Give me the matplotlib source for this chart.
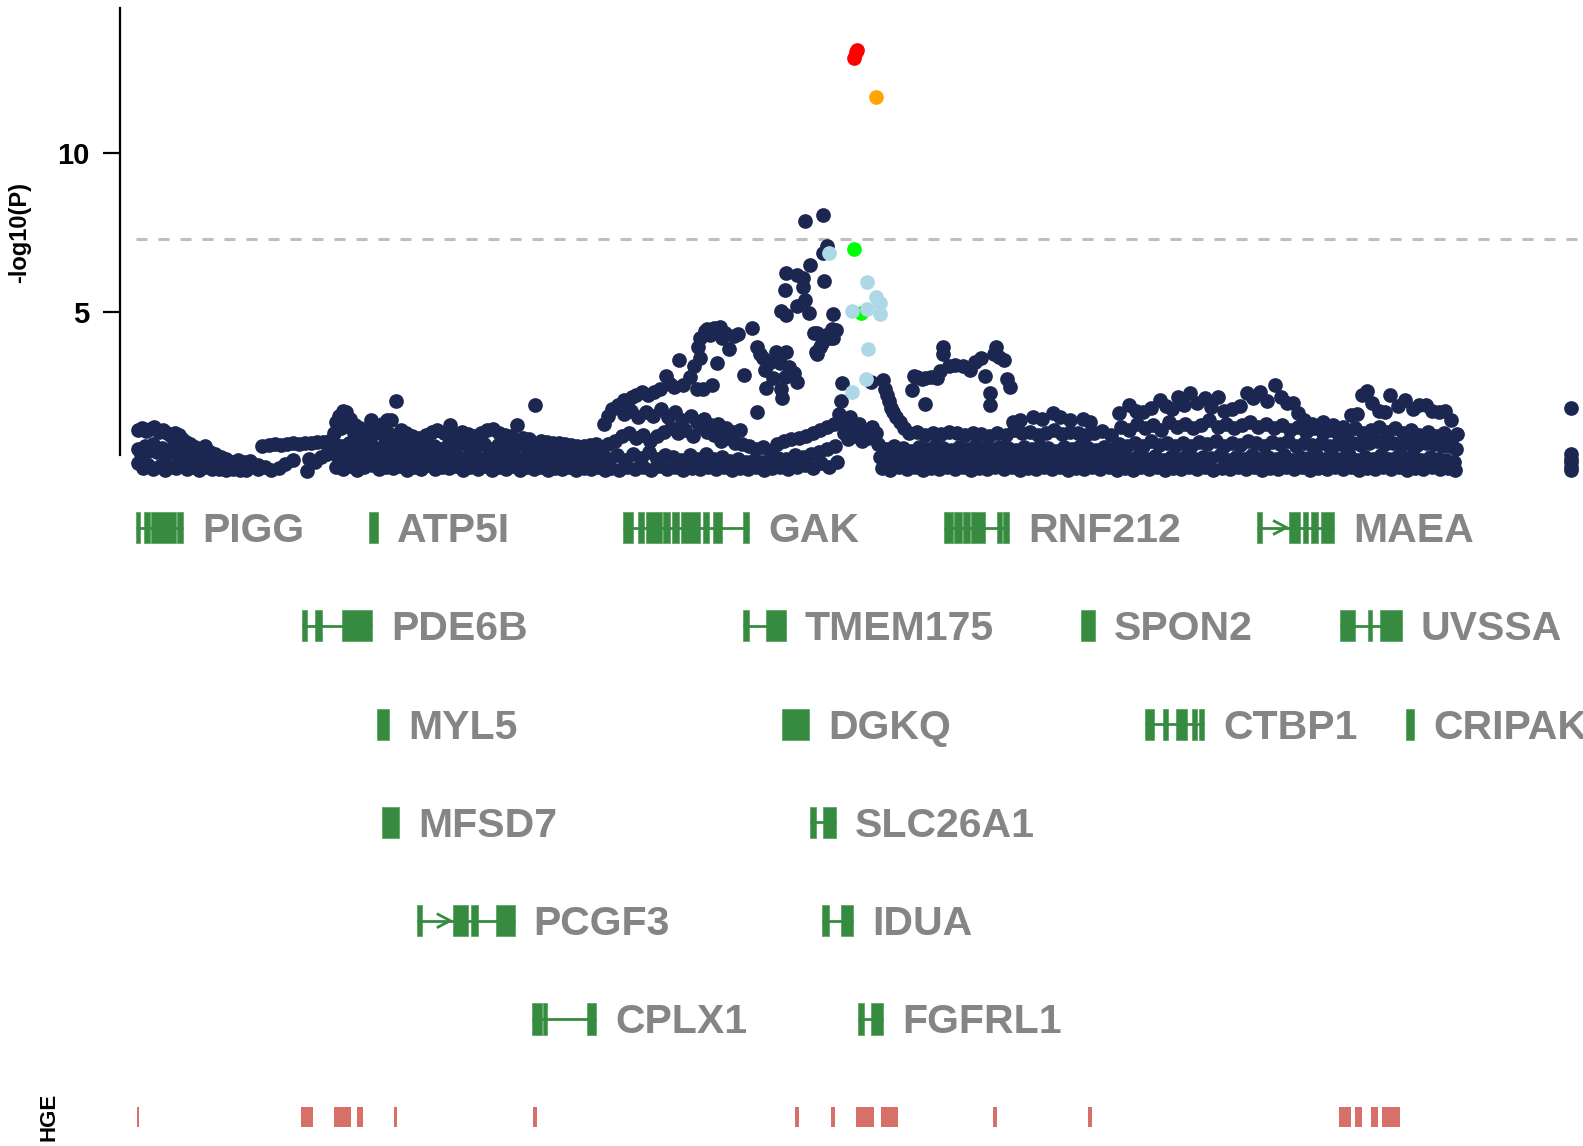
import numpy as np
import matplotlib
matplotlib.use("Agg")
import matplotlib.pyplot as plt
from matplotlib.patches import Rectangle

plt.rcParams['font.family'] = ['Liberation Sans', 'DejaVu Sans']

# ---------------------------------------------------------------
# Association results: position (kb along the region), -log10(P)
# ---------------------------------------------------------------
# r2 < 0.2 with the lead SNP, split by stretch of the region
low_ld_left = [
    (137, 1.30), (141, 1.35), (145, 1.28), (149, 1.33), (153, 1.38), (157, 1.25), (161, 1.30),
    (165, 1.20), (169, 1.12), (173, 1.22), (177, 1.15), (180, 1.00), (184, 0.92), (188, 0.85),
    (193, 0.75), (198, 0.70), (203, 0.78), (208, 0.62), (213, 0.55), (219, 0.45), (224, 0.40),
    (230, 0.30), (236, 0.35), (242, 0.28), (248, 0.32),
    (137, 0.70), (140, 0.55), (144, 0.80), (148, 0.65), (152, 0.85), (156, 0.60), (160, 0.72),
    (164, 0.50), (168, 0.62), (172, 0.78), (176, 0.48), (180, 0.60), (185, 0.45), (190, 0.55),
    (195, 0.40), (200, 0.30), (205, 0.42), (210, 0.25), (216, 0.30), (222, 0.18), (228, 0.22),
    (234, 0.12), (240, 0.20), (246, 0.10),
    (137, 0.25), (142, 0.10), (147, 0.20), (152, 0.08), (158, 0.18), (163, 0.05), (168, 0.15),
    (174, 0.10), (179, 0.20), (185, 0.06), (191, 0.15), (197, 0.05), (203, 0.12), (210, 0.06),
    (217, 0.08), (224, 0.04), (231, 0.06), (238, 0.04), (244, 0.05),
    (256, 0.20), (260, 0.80), (266, 0.82), (272, 0.85), (278, 0.84), (284, 0.86), (290, 0.88),
    (296, 0.87), (302, 0.88), (308, 0.90), (314, 0.91), (320, 0.92), (326, 0.95),
    (256, 0.08), (262, 0.15), (268, 0.05), (276, 0.10), (282, 0.22), (290, 0.35), (304, 0.02),
    (306, 0.40), (312, 0.30), (318, 0.45), (324, 0.55), (330, 0.70),
]

low_ld_mid = [
    (333, 1.55), (336, 1.75), (340, 1.90), (343, 1.85), (347, 1.65), (352, 1.45), (357, 1.35),
    (362, 1.30), (367, 1.62), (372, 1.40), (378, 1.50), (383, 1.60), (387, 1.62), (392, 2.20),
    (397, 1.30), (402, 1.20), (408, 1.10), (415, 1.05), (422, 1.15), (428, 1.25), (433, 1.30),
    (440, 1.20), (446, 1.45), (452, 1.15), (458, 1.25), (464, 1.18), (470, 1.10), (476, 1.22),
    (482, 1.30), (488, 1.32), (494, 1.20), (500, 1.15), (506, 1.10), (512, 1.45), (518, 1.05),
    (524, 1.00), (530, 2.10), (536, 0.95), (542, 0.92), (548, 0.88), (554, 0.90), (560, 0.85),
    (566, 0.84), (572, 0.80), (578, 0.78), (584, 0.82), (590, 0.85), (596, 0.75),
    (331, 1.20), (338, 1.35), (345, 1.42), (351, 1.20), (358, 1.10), (364, 1.18), (370, 1.25),
    (376, 1.22), (382, 1.28), (388, 1.15), (395, 1.05), (401, 0.95),
    (332, 0.85), (339, 0.80), (346, 0.90), (353, 0.78), (360, 0.72), (367, 0.85), (374, 0.70),
    (381, 0.88), (388, 0.75), (395, 0.80), (402, 0.68), (409, 0.78), (416, 0.72), (423, 0.85),
    (430, 0.80), (437, 0.70), (444, 0.82), (451, 0.75), (458, 0.88), (465, 0.72), (472, 0.80),
    (479, 0.85), (486, 0.70), (493, 0.82), (500, 0.78), (507, 0.72), (514, 0.85), (521, 0.75),
    (528, 0.68), (535, 0.80), (542, 0.70), (549, 0.62), (556, 0.70), (563, 0.60), (570, 0.66),
    (577, 0.55), (584, 0.58), (591, 0.50), (598, 0.45),
    (335, 0.45), (342, 0.40), (349, 0.52), (356, 0.35), (363, 0.48), (370, 0.40), (377, 0.50),
    (384, 0.38), (391, 0.45), (398, 0.35), (405, 0.48), (412, 0.42), (419, 0.52), (426, 0.38),
    (433, 0.45), (440, 0.50), (447, 0.36), (454, 0.46), (461, 0.40), (468, 0.52), (475, 0.38),
    (482, 0.46), (489, 0.42), (496, 0.50), (503, 0.36), (510, 0.45), (517, 0.40), (524, 0.48),
    (531, 0.35), (538, 0.42), (545, 0.30), (552, 0.38), (559, 0.28), (566, 0.35), (573, 0.25),
    (580, 0.32), (587, 0.22), (594, 0.30),
    (333, 0.15), (340, 0.08), (347, 0.18), (354, 0.05), (361, 0.12), (368, 0.20), (375, 0.06),
    (382, 0.15), (389, 0.10), (396, 0.18), (403, 0.05), (410, 0.14), (417, 0.08), (424, 0.20),
    (431, 0.06), (438, 0.15), (445, 0.10), (452, 0.18), (459, 0.05), (466, 0.12), (473, 0.08),
    (480, 0.16), (487, 0.04), (494, 0.12), (501, 0.08), (508, 0.18), (515, 0.05), (522, 0.12),
    (529, 0.08), (536, 0.15), (543, 0.05), (550, 0.10), (557, 0.06), (564, 0.12), (571, 0.04),
    (578, 0.10), (585, 0.06), (592, 0.12), (599, 0.05),
]

low_ld_peak = [
    (605, 0.10), (613, 0.05), (621, 0.15), (629, 0.08), (637, 0.12), (645, 0.05), (653, 0.16),
    (661, 0.08), (669, 0.12), (677, 0.04), (685, 0.10), (693, 0.06), (701, 0.15), (709, 0.08),
    (717, 0.12), (725, 0.05), (733, 0.10), (741, 0.06), (749, 0.12), (757, 0.05), (765, 0.10),
    (773, 0.15), (781, 0.08), (789, 0.12), (797, 0.20), (805, 0.10), (813, 0.25), (821, 0.15),
    (829, 0.30),
    (603, 0.40), (611, 0.50), (619, 0.35), (627, 0.55), (635, 0.42), (643, 0.60), (651, 0.38),
    (659, 0.52), (667, 0.45), (675, 0.35), (683, 0.50), (691, 0.40), (699, 0.55), (707, 0.38),
    (715, 0.45), (723, 0.32), (731, 0.40), (739, 0.30), (747, 0.36), (755, 0.28), (763, 0.35),
    (771, 0.42), (779, 0.38), (787, 0.50), (795, 0.45), (803, 0.55), (811, 0.60), (819, 0.70),
    (827, 0.80),
    (602, 0.85), (609, 0.95), (616, 1.10), (623, 1.20), (630, 1.05), (637, 1.15), (644, 0.95),
    (651, 1.10), (658, 1.25), (665, 1.35), (672, 1.20), (679, 1.30), (686, 1.10), (693, 1.40),
    (700, 1.25), (707, 1.15), (714, 0.95), (721, 1.05), (728, 0.90), (735, 0.85), (742, 0.80),
    (749, 0.70), (756, 0.75), (763, 0.65), (770, 0.85), (777, 0.95), (784, 1.00), (791, 1.05),
    (798, 1.10), (805, 1.20), (812, 1.30), (819, 1.40), (826, 1.50),
    (618, 1.80), (625, 1.90), (632, 1.70), (640, 1.85), (647, 1.75), (655, 1.95), (662, 1.70),
    (669, 1.85), (676, 1.60), (684, 1.75), (690, 1.55), (697, 1.65), (704, 1.45), (711, 1.50),
    (719, 1.35), (726, 1.25), (733, 1.30),
    (598, 1.50), (602, 1.75), (606, 1.95), (612, 2.10), (618, 2.25), (622, 2.00), (626, 2.35),
    (630, 2.40), (636, 2.48), (642, 2.40), (648, 2.50), (654, 2.60), (660, 3.00), (664, 2.75),
    (668, 2.65), (673, 3.50), (677, 2.72), (683, 2.97), (687, 3.30), (691, 3.90), (693, 4.20),
    (696, 2.59), (698, 4.40), (700, 4.46), (703, 4.30), (707, 4.50), (710, 3.40), (713, 4.55),
    (715, 4.20), (718, 4.35), (722, 3.86), (727, 4.25), (731, 4.31), (737, 3.03), (745, 4.50),
    (705, 2.70), (690, 2.60), (693, 3.55),
    (750, 3.90), (753, 3.70), (756, 3.55), (758, 3.19), (759, 2.62), (762, 3.40), (766, 2.93),
    (769, 3.75), (773, 3.40), (775, 2.30), (779, 3.75), (782, 3.28), (786, 3.10), (789, 2.80),
    (750, 1.86), (774, 2.60), (778, 2.95),
    (774, 5.04), (778, 5.70), (779, 4.91), (779, 6.23), (789, 6.18), (789, 5.19), (795, 6.08),
    (795, 5.80), (797, 5.39), (797, 7.86), (801, 4.97), (802, 6.50), (806, 4.34), (809, 4.34),
    (809, 3.70), (814, 4.05), (815, 8.05), (815, 6.87), (816, 5.98), (819, 7.10), (824, 4.46),
    (825, 4.94), (825, 4.20), (834, 2.78), (808, 3.75), (812, 3.90), (818, 4.30), (822, 4.20),
    (828, 4.45),
]

low_ld_right = [
    (831, 1.80), (833, 2.20), (835, 1.60), (836, 1.20), (838, 1.40), (840, 1.00), (842, 1.70),
    (845, 1.30), (848, 1.10), (851, 1.50), (854, 0.95), (857, 1.25), (860, 1.05), (864, 1.40),
    (868, 1.20), (863, 2.80),
    (875, 2.88), (877, 2.60), (879, 2.40), (881, 2.20), (883, 2.00), (885, 1.85), (888, 1.70),
    (891, 1.55), (895, 1.35),
    (903, 2.55), (905, 3.00), (908, 2.95), (913, 2.90), (916, 2.92), (922, 2.95), (928, 2.93),
    (931, 3.15), (934, 3.70), (934, 3.90), (940, 3.30), (946, 3.35), (954, 3.30), (961, 3.20),
    (966, 3.45), (972, 3.55), (976, 3.00), (981, 2.46), (981, 2.08), (985, 3.70), (987, 3.90),
    (990, 3.60), (994, 3.50), (997, 2.90), (1000, 2.65), (916, 2.12),
    (900, 1.20), (908, 1.25), (916, 1.15), (924, 1.22), (932, 1.18), (940, 1.25), (948, 1.20),
    (956, 1.15), (964, 1.22), (972, 1.18), (980, 1.12), (988, 1.20), (996, 1.15), (1004, 1.30),
    (1012, 1.20), (1020, 1.25), (1028, 1.15), (1036, 1.22), (1044, 1.30), (1052, 1.18),
    (1060, 1.25), (1068, 1.20), (1076, 1.15), (1084, 1.22), (1092, 1.28), (1100, 1.15),
    (870, 0.85), (878, 0.70), (886, 0.80), (894, 0.72), (902, 0.65), (910, 0.75), (918, 0.70),
    (926, 0.78), (934, 0.72), (942, 0.68), (950, 0.75), (958, 0.70), (966, 0.78), (974, 0.72),
    (982, 0.70), (990, 0.76), (998, 0.72), (1006, 0.68), (1014, 0.75), (1022, 0.70),
    (1030, 0.78), (1038, 0.72), (1046, 0.65), (1054, 0.75), (1062, 0.70), (1070, 0.78),
    (1078, 0.72), (1086, 0.68), (1094, 0.75), (1102, 0.70),
    (872, 0.45), (880, 0.38), (888, 0.50), (896, 0.35), (904, 0.45), (912, 0.40), (920, 0.52),
    (928, 0.36), (936, 0.46), (944, 0.40), (952, 0.50), (960, 0.38), (968, 0.45), (976, 0.42),
    (984, 0.50), (992, 0.35), (1000, 0.45), (1008, 0.40), (1016, 0.52), (1024, 0.38),
    (1032, 0.46), (1040, 0.40), (1048, 0.50), (1056, 0.36), (1064, 0.45), (1072, 0.42),
    (1080, 0.48), (1088, 0.38), (1096, 0.46), (1104, 0.40),
    (874, 0.10), (882, 0.05), (890, 0.15), (898, 0.08), (906, 0.12), (914, 0.04), (922, 0.10),
    (930, 0.06), (938, 0.15), (946, 0.08), (954, 0.12), (962, 0.05), (970, 0.10), (978, 0.06),
    (986, 0.14), (994, 0.08), (1002, 0.12), (1010, 0.05), (1018, 0.10), (1026, 0.06),
    (1034, 0.12), (1042, 0.08), (1050, 0.15), (1058, 0.05), (1066, 0.10), (1074, 0.06),
    (1082, 0.12), (1090, 0.08), (1098, 0.14), (1106, 0.05),
    (1003, 1.55), (1010, 1.60), (1023, 1.70), (1032, 1.65), (1043, 1.83), (1050, 1.70),
    (1060, 1.60), (1073, 1.65), (1080, 1.55),
]

low_ld_far = [
    (1108, 1.83), (1118, 2.08), (1125, 1.90), (1132, 1.85), (1140, 2.00), (1149, 2.24),
    (1155, 2.05), (1161, 1.95), (1167, 2.33), (1173, 2.10), (1179, 2.46), (1186, 2.15),
    (1194, 2.30), (1200, 2.02), (1206, 2.33), (1212, 1.90), (1220, 1.95), (1228, 2.05),
    (1235, 2.46), (1241, 2.30), (1248, 2.48), (1255, 2.20), (1263, 2.72), (1269, 2.35),
    (1275, 2.15), (1281, 2.15), (1286, 1.83), (1292, 1.60), (1300, 1.50), (1310, 1.55),
    (1320, 1.45), (1330, 1.40), (1338, 1.77), (1344, 1.80), (1349, 2.40), (1354, 2.52),
    (1359, 2.15), (1366, 1.90), (1372, 1.85), (1377, 2.40), (1385, 2.05), (1392, 2.25),
    (1400, 1.95), (1406, 2.10), (1412, 2.10), (1418, 1.90), (1425, 1.85), (1431, 1.90),
    (1437, 1.60), (1443, 1.18),
    (1110, 1.40), (1118, 1.30), (1126, 1.50), (1134, 1.35), (1142, 1.45), (1150, 1.30),
    (1158, 1.55), (1166, 1.40), (1174, 1.50), (1182, 1.35), (1190, 1.45), (1198, 1.60),
    (1206, 1.40), (1214, 1.50), (1222, 1.35), (1230, 1.45), (1238, 1.55), (1246, 1.40),
    (1254, 1.50), (1262, 1.35), (1270, 1.45), (1278, 1.30), (1286, 1.40), (1294, 1.25),
    (1302, 1.35), (1310, 1.20), (1318, 1.30), (1326, 1.15), (1334, 1.25), (1342, 1.35),
    (1350, 1.20), (1358, 1.30), (1366, 1.40), (1374, 1.25), (1382, 1.35), (1390, 1.20),
    (1398, 1.30), (1406, 1.15), (1414, 1.25), (1422, 1.10), (1430, 1.20), (1438, 1.05),
    (1108, 0.85), (1116, 0.78), (1124, 0.90), (1132, 0.80), (1140, 0.95), (1148, 0.82),
    (1156, 0.90), (1164, 0.78), (1172, 0.88), (1180, 0.80), (1188, 0.92), (1196, 0.85),
    (1204, 0.95), (1212, 0.80), (1220, 0.90), (1228, 0.82), (1236, 0.95), (1244, 0.88),
    (1252, 0.80), (1260, 0.92), (1268, 0.85), (1276, 0.95), (1284, 0.80), (1292, 0.90),
    (1300, 0.82), (1308, 0.88), (1316, 0.78), (1324, 0.85), (1332, 0.80), (1340, 0.90),
    (1348, 0.82), (1356, 0.88), (1364, 0.95), (1372, 0.85), (1380, 0.90), (1388, 0.80),
    (1396, 0.88), (1404, 0.82), (1412, 0.90), (1420, 0.85), (1428, 0.80), (1436, 0.78),
    (1442, 0.70),
    (1112, 0.45), (1120, 0.38), (1128, 0.52), (1136, 0.40), (1144, 0.48), (1152, 0.35),
    (1160, 0.45), (1168, 0.40), (1176, 0.50), (1184, 0.38), (1192, 0.46), (1200, 0.42),
    (1208, 0.50), (1216, 0.36), (1224, 0.45), (1232, 0.40), (1240, 0.52), (1248, 0.38),
    (1256, 0.46), (1264, 0.40), (1272, 0.50), (1280, 0.35), (1288, 0.45), (1296, 0.42),
    (1304, 0.50), (1312, 0.38), (1320, 0.46), (1328, 0.40), (1336, 0.52), (1344, 0.36),
    (1352, 0.45), (1360, 0.40), (1368, 0.50), (1376, 0.38), (1384, 0.46), (1392, 0.42),
    (1400, 0.50), (1408, 0.36), (1416, 0.45), (1424, 0.40), (1432, 0.35), (1440, 0.30),
    (1114, 0.10), (1122, 0.05), (1130, 0.15), (1138, 0.08), (1146, 0.12), (1154, 0.04),
    (1162, 0.10), (1170, 0.06), (1178, 0.14), (1186, 0.08), (1194, 0.12), (1202, 0.05),
    (1210, 0.10), (1218, 0.06), (1226, 0.14), (1234, 0.08), (1242, 0.12), (1250, 0.05),
    (1258, 0.10), (1266, 0.06), (1274, 0.12), (1282, 0.08), (1290, 0.14), (1298, 0.05),
    (1306, 0.10), (1314, 0.06), (1322, 0.12), (1330, 0.08), (1338, 0.14), (1346, 0.05),
    (1354, 0.10), (1362, 0.06), (1370, 0.12), (1378, 0.08), (1386, 0.14), (1394, 0.05),
    (1402, 0.10), (1410, 0.06), (1418, 0.12), (1426, 0.08), (1434, 0.10), (1441, 0.05),
    (1556, 1.98), (1556, 0.55), (1556, 0.40), (1556, 0.28), (1556, 0.15), (1556, 0.05),
]

# 0.2 <= r2 < 0.4
ld_lightblue = [(821, 6.87), (859, 5.94), (868, 5.48), (872, 5.29), (844, 5.03), (859, 5.10),
                (872, 4.94), (860, 3.84), (858, 2.89), (844, 2.50)]
# 0.4 <= r2 < 0.6
ld_green = [(846, 7.00), (853, 4.99)]
# 0.6 <= r2 < 0.8
ld_orange = [(868, 11.76)]
# r2 >= 0.8 (lead SNP and proxies)
ld_red = [(846, 13.01), (848, 13.18), (849, 13.25)]

GWS = -np.log10(5e-8)

# Genes: name, track row, exon (start, end) in kb along the region
gene_names = ["PIGG", "ATP5I", "GAK", "RNF212", "MAEA",
              "PDE6B", "TMEM175", "SPON2", "UVSSA",
              "MYL5", "DGKQ", "CTBP1", "CRIPAK",
              "MFSD7", "SLC26A1",
              "PCGF3", "IDUA",
              "CPLX1", "FGFRL1"]
gene_rows = [0, 0, 0, 0, 0, 1, 1, 1, 1, 2, 2, 2, 2, 3, 3, 4, 4, 5, 5]
gene_exons = [
    [(134.7, 138.7), (142.6, 148.6), (149.6, 174.3), (175.3, 181.3)],
    [(365.5, 374.4)],
    [(617.3, 627.2), (632.2, 637.9), (639.9, 655.4), (657.0, 663.6), (665.3, 672.8),
     (674.5, 693.3), (696.6, 702.5), (706.5, 714.8), (735.6, 741.9)],
    [(935.3, 943.6), (945.2, 952.5), (954.1, 960.8), (961.8, 975.6), (987.2, 992.2),
     (993.8, 999.7)],
    [(1245.0, 1250.4), (1276.7, 1288.1), (1290.3, 1295.3), (1298.5, 1305.7), (1308.2, 1321.6)],
    [(298.8, 303.8), (312.0, 319.2), (338.4, 368.8)],
    [(735.6, 741.9), (758.4, 778.2)],
    [(1070.6, 1084.8)],
    [(1327.2, 1342.6), (1355.2, 1358.6), (1366.9, 1388.6)],
    [(373.4, 385.3)],
    [(774.6, 801.3)],
    [(1134.1, 1143.0), (1151.9, 1156.9), (1164.8, 1175.7), (1180.7, 1185.6), (1187.6, 1192.6)],
    [(1392.6, 1400.6)],
    [(378.4, 395.2)],
    [(802.3, 808.2), (815.2, 828.1)],
    [(413.0, 418.3), (448.4, 463.8), (466.9, 473.5), (491.3, 509.8)],
    [(814.1, 820.7), (833.0, 844.9)],
    [(526.6, 536.8), (537.7, 542.1), (581.0, 590.7)],
    [(849.4, 856.1), (862.7, 875.1)],
]
# genes drawn with a transcription-start arrow
tss_genes = ["MAEA", "PCGF3"]

# Highly conserved genomic elements (start, end)
hge_start = [135.4, 298.1, 331.0, 353.7, 390.1, 528.1, 787.8, 823.3, 847.6, 872.5,
             983.5, 1077.3, 1326.4, 1342.1, 1357.8, 1369.0]
hge_end = [137.5, 309.8, 347.7, 359.8, 393.6, 532.1, 791.9, 826.8, 865.9, 889.2,
           987.6, 1081.9, 1338.0, 1348.7, 1364.9, 1386.7]

NAVY = "#1B2651"
GENE_GREEN = "#378B40"
LABEL_GREY = "#858585"
HGE_RED = "#D8706A"

W, H = 1583, 1146
X_MAX = 1568
fig = plt.figure(figsize=(W / 100, H / 100), dpi=100)

# ---- association panel ----
ax = fig.add_axes([0, 1 - 480 / H, 1, 480 / H])
ax.set_xlim(0, X_MAX)
ax.set_ylim(-(480 - 471.3) / 31.8, 471.3 / 31.8)

ax.hlines(GWS, 134.7, X_MAX, colors="#BEBEBE", linewidth=2.2,
          linestyles=(0, (3.6, 3.6)), zorder=1)

navy = np.array(low_ld_left + low_ld_mid + low_ld_peak + low_ld_right + low_ld_far)
ms = 112
ax.scatter(navy[:, 0], navy[:, 1], s=ms, c=NAVY, linewidths=0, zorder=2, clip_on=False)
for pts, col in [(ld_green, "#00FF00"), (ld_lightblue, "#ADD8E6"),
                 (ld_orange, "#FFA500"), (ld_red, "#FF0000")]:
    p = np.array(pts)
    ax.scatter(p[:, 0], p[:, 1], s=ms, c=col, linewidths=0, zorder=3, clip_on=False)

for side in ["top", "right", "bottom"]:
    ax.spines[side].set_visible(False)
ax.spines["left"].set_position(("data", 118.9))
ax.spines["left"].set_bounds(0.51, 14.56)
ax.spines["left"].set_linewidth(1.6)
ax.set_xticks([])
ax.set_yticks([5, 10])
ax.tick_params(axis="y", length=12, width=1.6, labelsize=21, pad=10)
for lbl in ax.get_yticklabels():
    lbl.set_fontweight("bold")
ax.patch.set_alpha(0)

fig.text(20 / W, 1 - 233 / H, "-log10(P)", rotation=90, ha="center", va="center",
         fontsize=17, fontweight="bold")

# ---- gene track ----
ROW0, ROW_STEP = 527.5, 98.3
g_top = ROW0 - 0.5 * ROW_STEP
g_bot = ROW0 + 5.5 * ROW_STEP
axg = fig.add_axes([0, 1 - g_bot / H, 1, (g_bot - g_top) / H])
axg.set_xlim(0, X_MAX)
axg.set_ylim(5.5, -0.5)
axg.axis("off")

half = 0.158
for name, row, exons in zip(gene_names, gene_rows, gene_exons):
    start = exons[0][0]
    end = exons[-1][1]
    if len(exons) > 1:
        axg.plot([start, end], [row, row], color=GENE_GREEN, linewidth=2, solid_capstyle="butt")
    for s, e in exons:
        axg.add_patch(Rectangle((s, row - half), e - s, 2 * half, facecolor=GENE_GREEN,
                                edgecolor="#5EA565", linewidth=0.6))
    if name in tss_genes:
        tip = exons[1][0] - 2.5
        axg.plot([tip - 12, tip, tip - 12], [row - 0.065, row, row + 0.065],
                 color=GENE_GREEN, linewidth=2, solid_joinstyle="miter")
    axg.annotate(name, xy=(end, row), xytext=(13.6, -10.4), textcoords="offset points",
                 ha="left", va="baseline", fontsize=29.5, fontweight="bold",
                 color=LABEL_GREY, annotation_clip=False)

# ---- conserved element track ----
axh = fig.add_axes([0, 1 - 1127 / H, 1, 20 / H])
axh.set_xlim(0, X_MAX)
axh.set_ylim(0, 1)
axh.axis("off")
axh.broken_barh([(s, e - s) for s, e in zip(hge_start, hge_end)], (0, 1), facecolors=HGE_RED)
fig.text(49 / W, 1 - 1117 / H, "HGE", rotation=90, ha="center", va="center",
         fontsize=16, fontweight="bold")

fig.savefig("out.png", dpi=100)
